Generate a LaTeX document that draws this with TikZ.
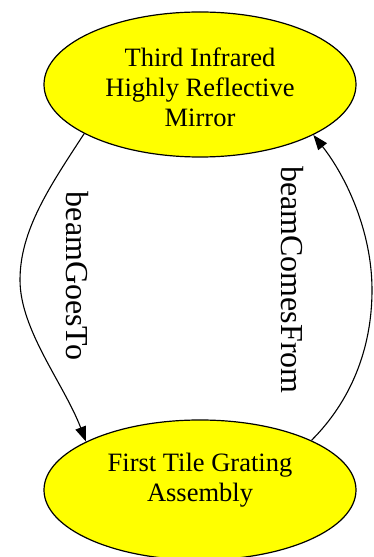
\documentclass[tikz,border=0pt]{standalone}
\usepackage{fontspec}
\setmainfont{LiberationSerif}[Extension=.ttf,UprightFont=*-Regular,BoldFont=*-Bold]
\usetikzlibrary{shapes.geometric,arrows.meta}
\definecolor{partfill}{RGB}{255,255,0}
\begin{document}
\begin{tikzpicture}[x=1pt,y=1pt,
  part/.style={ellipse,draw=black,line width=1.2pt,fill=partfill,
    minimum width=312pt,minimum height=145pt,inner sep=0pt},
  parttext/.style={align=center,font=\rmfamily\fontsize{26.5}{30}\selectfont},
  rel/.style={draw=black,line width=1.1pt,-{Triangle[length=15pt,width=11pt]}},
  rellabel/.style={rotate=-90,font=\rmfamily\fontsize{32}{36}\selectfont,inner sep=0pt}]
\useasboundingbox (0,0) rectangle (373,557);
% the two components
\node[part,label={[parttext,yshift=-3pt]center:Third Infrared\\Highly Reflective\\Mirror}] (mirror) at (200,472.5) {};
\node[part,minimum height=140pt,label={[parttext,yshift=10pt]center:First Tile Grating\\Assembly}] (grating) at (200,67) {};
% beam path between them
\draw[rel] (mirror.203) .. controls (50,371) and (20,327) .. (20,277)
  .. controls (20,227) and (64,173) .. (grating.157);
\draw[rel] (grating.24) .. controls (350,155) and (372,207) .. (372,267)
  .. controls (372,327) and (345,382) .. (mirror.336.5);
\node[rellabel] (goes) at (77,281) {beamGoesTo};
\node[rellabel] (comes) at (292,277) {beamComesFrom};
\end{tikzpicture}
\end{document}
